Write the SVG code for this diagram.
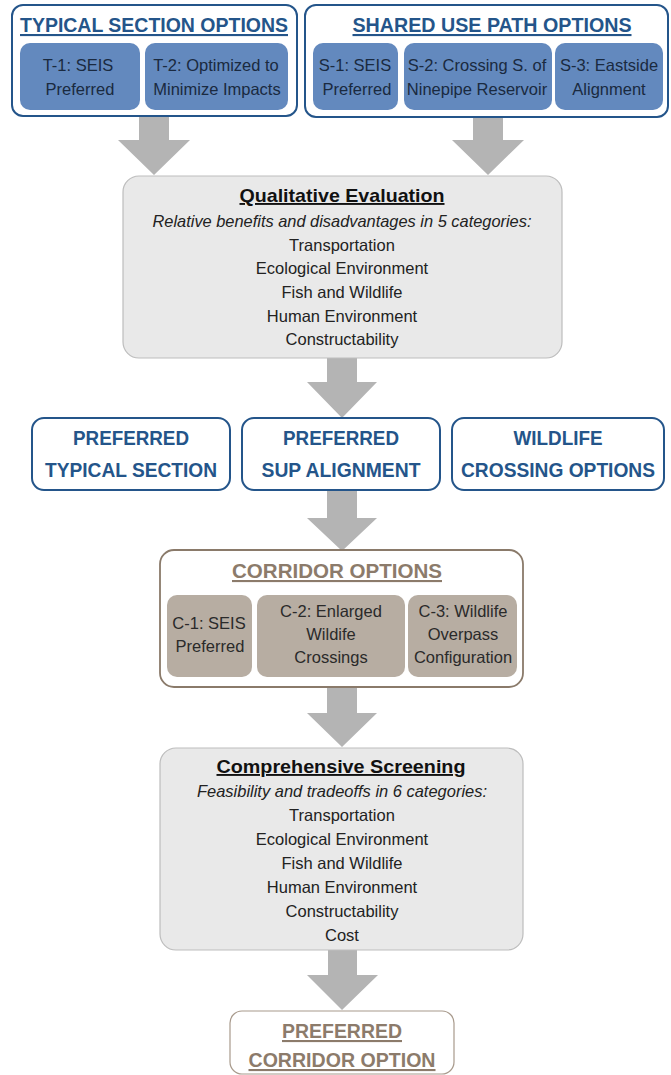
<svg xmlns="http://www.w3.org/2000/svg" width="671" height="1075" viewBox="0 0 671 1075">
<defs>
<style>
text{font-family:"Liberation Sans",Arial,sans-serif;text-anchor:middle}
.outer{fill:#ffffff;stroke:#24558a;stroke-width:2}
.inner{fill:#6389be;stroke:none}
.t-title{font-size:21px;font-weight:bold;fill:#24558a;text-decoration:underline}
.t-inner{font-size:16.5px;fill:#1a2a40}
.pref{fill:#ffffff;stroke:#24558a;stroke-width:2}
.t-pref{font-size:20px;font-weight:bold;fill:#24558a}
.grey{fill:#e9e9e9;stroke:#bdbdbd;stroke-width:1.2}
.t-head{font-size:19px;font-weight:bold;fill:#111;text-decoration:underline}
.t-ital{font-size:16.5px;font-style:italic;fill:#222}
.t-body{font-size:16.5px;fill:#222}
.corr{fill:#ffffff;stroke:#8a7a6a;stroke-width:1.8}
.cinner{fill:#b7ada2;stroke:none}
.t-corr{font-size:21px;font-weight:bold;fill:#8c7b6b;text-decoration:underline}
.t-cin{font-size:16.5px;fill:#2a2a2a}
.final{fill:#ffffff;stroke:#a89a8c;stroke-width:1.2}
.arrow{fill:#b4b4b4;stroke:none}
</style>
</defs>

<g id="connectors">
<polygon class="arrow" points="139,116 169,116 169,140 190,140 154,175 118,140 139,140"/>
<polygon class="arrow" points="473,118 503,118 503,140 524,140 488,175 452,140 473,140"/>
<polygon class="arrow" points="327,358 357,358 357,382 377,382 342,418 307,382 327,382"/>
<polygon class="arrow" points="327,490 357,490 357,518 377,518 342,551 307,518 327,518"/>
<polygon class="arrow" points="327,687 357,687 357,713 377,713 342,747 307,713 327,713"/>
<polygon class="arrow" points="328,950 357,950 357,975 378,975 342,1010 307,975 328,975"/>
</g>

<g id="typical-section-options">
<rect class="outer" x="12" y="5" width="285" height="111" rx="11"/>
<text class="t-title" x="154" y="32" textLength="268" lengthAdjust="spacingAndGlyphs">TYPICAL SECTION OPTIONS</text>
</g>
<g id="t1">
<rect class="inner" x="20" y="43" width="120" height="67" rx="10"/>
<text class="t-inner" x="78" y="71">T-1: SEIS</text>
<text class="t-inner" x="80" y="95">Preferred</text>
</g>
<g id="t2">
<rect class="inner" x="145" y="43" width="143" height="67" rx="10"/>
<text class="t-inner" x="216" y="71">T-2: Optimized to</text>
<text class="t-inner" x="217" y="95">Minimize Impacts</text>
</g>

<g id="shared-use-path-options">
<rect class="outer" x="305" y="5" width="363" height="112" rx="11"/>
<text class="t-title" x="492" y="32" textLength="279" lengthAdjust="spacingAndGlyphs">SHARED USE PATH OPTIONS</text>
</g>
<g id="s1">
<rect class="inner" x="313" y="43" width="85" height="67" rx="10"/>
<text class="t-inner" x="355" y="71">S-1: SEIS</text>
<text class="t-inner" x="357" y="95">Preferred</text>
</g>
<g id="s2">
<rect class="inner" x="404" y="43" width="148" height="67" rx="10"/>
<text class="t-inner" x="477" y="71">S-2: Crossing S. of</text>
<text class="t-inner" x="477" y="95">Ninepipe Reservoir</text>
</g>
<g id="s3">
<rect class="inner" x="555" y="43" width="108" height="67" rx="10"/>
<text class="t-inner" x="609" y="71">S-3: Eastside</text>
<text class="t-inner" x="609" y="95">Alignment</text>
</g>

<g id="qualitative-evaluation">
<rect class="grey" x="123" y="176" width="439" height="182" rx="16"/>
<text class="t-head" x="342" y="202" textLength="205" lengthAdjust="spacingAndGlyphs">Qualitative Evaluation</text>
<text class="t-ital" x="342" y="227" textLength="379" lengthAdjust="spacingAndGlyphs">Relative benefits and disadvantages in 5 categories:</text>
<text class="t-body" x="342" y="250.5">Transportation</text>
<text class="t-body" x="342" y="274">Ecological Environment</text>
<text class="t-body" x="342" y="297.5">Fish and Wildlife</text>
<text class="t-body" x="342" y="321.5">Human Environment</text>
<text class="t-body" x="342" y="345">Constructability</text>
</g>

<g id="preferred-typical-section">
<rect class="pref" x="32" y="418" width="198" height="72" rx="12"/>
<text class="t-pref" x="131" y="445" textLength="116" lengthAdjust="spacingAndGlyphs">PREFERRED</text>
<text class="t-pref" x="131" y="477" textLength="172" lengthAdjust="spacingAndGlyphs">TYPICAL SECTION</text>
</g>
<g id="preferred-sup-alignment">
<rect class="pref" x="242" y="418" width="198" height="72" rx="12"/>
<text class="t-pref" x="341" y="445" textLength="116" lengthAdjust="spacingAndGlyphs">PREFERRED</text>
<text class="t-pref" x="341" y="477" textLength="159" lengthAdjust="spacingAndGlyphs">SUP ALIGNMENT</text>
</g>
<g id="wildlife-crossing-options">
<rect class="pref" x="452" y="418" width="212" height="72" rx="12"/>
<text class="t-pref" x="558" y="445" textLength="89" lengthAdjust="spacingAndGlyphs">WILDLIFE</text>
<text class="t-pref" x="558" y="477" textLength="194" lengthAdjust="spacingAndGlyphs">CROSSING OPTIONS</text>
</g>

<g id="corridor-options">
<rect class="corr" x="160" y="550" width="363" height="137" rx="14"/>
<text class="t-corr" x="337" y="578" textLength="210" lengthAdjust="spacingAndGlyphs">CORRIDOR OPTIONS</text>
</g>
<g id="c1">
<rect class="cinner" x="167" y="595" width="85" height="82" rx="10"/>
<text class="t-cin" x="209" y="629">C-1: SEIS</text>
<text class="t-cin" x="210" y="652">Preferred</text>
</g>
<g id="c2">
<rect class="cinner" x="257" y="595" width="148" height="82" rx="10"/>
<text class="t-cin" x="331" y="617">C-2: Enlarged</text>
<text class="t-cin" x="331" y="640">Wildife</text>
<text class="t-cin" x="331" y="663">Crossings</text>
</g>
<g id="c3">
<rect class="cinner" x="408" y="595" width="109" height="82" rx="10"/>
<text class="t-cin" x="463" y="617">C-3: Wildlife</text>
<text class="t-cin" x="463" y="640">Overpass</text>
<text class="t-cin" x="463" y="663">Configuration</text>
</g>

<g id="comprehensive-screening">
<rect class="grey" x="160" y="748" width="363" height="202" rx="16"/>
<text class="t-head" x="341" y="773" textLength="249" lengthAdjust="spacingAndGlyphs">Comprehensive Screening</text>
<text class="t-ital" x="342" y="797" textLength="290" lengthAdjust="spacingAndGlyphs">Feasibility and tradeoffs in 6 categories:</text>
<text class="t-body" x="342" y="821">Transportation</text>
<text class="t-body" x="342" y="845">Ecological Environment</text>
<text class="t-body" x="342" y="869">Fish and Wildlife</text>
<text class="t-body" x="342" y="893">Human Environment</text>
<text class="t-body" x="342" y="917">Constructability</text>
<text class="t-body" x="342" y="941">Cost</text>
</g>

<g id="preferred-corridor-option">
<rect class="final" x="230" y="1011" width="224" height="63" rx="12"/>
<text class="t-corr" x="342" y="1038" textLength="120" lengthAdjust="spacingAndGlyphs">PREFERRED</text>
<text class="t-corr" x="342" y="1067" textLength="187" lengthAdjust="spacingAndGlyphs">CORRIDOR OPTION</text>
</g>
</svg>
